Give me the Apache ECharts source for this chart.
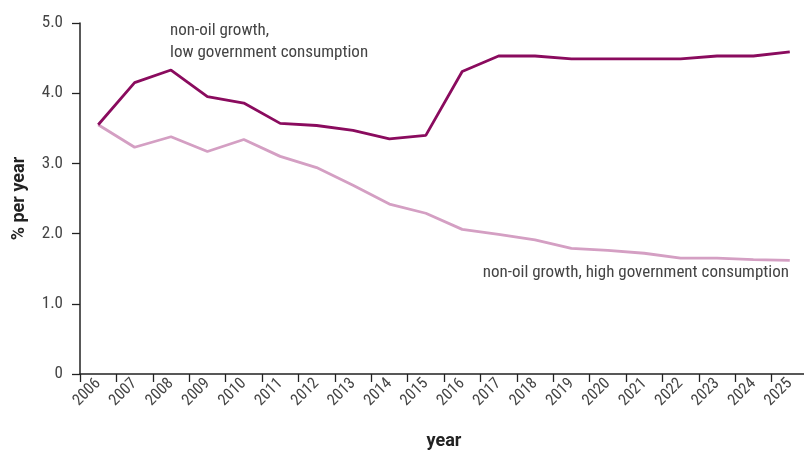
<!DOCTYPE html>
<html lang="en">
<head>
    <meta charset="UTF-8">
    <title>non-oil growth</title>
    <style type="text/css">
        *{
            margin: 0;
            padding: 0;
        }
        #main{
            width: 804px;
            height: 450px;
            background: #ffffff;
        }
    </style>
</head>
<body>
    <div id="main"></div>
    <script src="https://cdn.jsdelivr.net/npm/echarts@6/dist/echarts.min.js"></script>
    <script type="text/javascript">
        var years = ['2006','2007','2008','2009','2010','2011','2012','2013','2014','2015',
                     '2016','2017','2018','2019','2020','2021','2022','2023','2024','2025'];
        // non-oil growth, low government consumption
        var lowGov = [3.55, 4.15, 4.33, 3.95, 3.86, 3.57, 3.54, 3.47, 3.35, 3.40,
                      4.31, 4.53, 4.53, 4.49, 4.49, 4.49, 4.49, 4.53, 4.53, 4.59];
        // non-oil growth, high government consumption
        var highGov = [3.55, 3.23, 3.38, 3.17, 3.34, 3.10, 2.94, 2.69, 2.42, 2.29,
                       2.06, 1.99, 1.91, 1.79, 1.76, 1.72, 1.65, 1.65, 1.63, 1.62];
        var yTicks = ['0', '1.0', '2.0', '3.0', '4.0', '5.0'];

        var font = '"Roboto Condensed", "Liberation Sans Narrow", "DejaVu Sans Condensed", Roboto, sans-serif';
        var boldFont = 'Roboto, "Liberation Sans", sans-serif';
        var textGray = '#444444';

        var myChart = echarts.init(document.getElementById('main'));

        var option = {
            animation: false,
            grid: {
                left: 80,
                top: 23,
                width: 728,
                height: 351,
                containLabel: false,
                outerBoundsMode: 'none'
            },
            xAxis: {
                type: 'category',
                data: years,
                boundaryGap: true,
                name: 'year',
                nameLocation: 'middle',
                nameGap: 58,
                nameTextStyle: {
                    fontFamily: boldFont,
                    fontWeight: 'bold',
                    fontSize: 18,
                    color: '#222222'
                },
                axisLine: { lineStyle: { color: '#222222', width: 1.5 } },
                axisTick: { show: true, length: 8, lineStyle: { color: '#222222', width: 1.3 } },
                axisLabel: {
                    rotate: 45,
                    interval: 0,
                    fontFamily: font,
                    fontSize: 16,
                    color: textGray,
                    margin: 7
                },
                splitLine: { show: false }
            },
            yAxis: {
                type: 'value',
                min: 0,
                max: 5,
                interval: 1,
                name: '% per year',
                nameLocation: 'middle',
                nameRotate: 90,
                nameGap: 52,
                nameTextStyle: {
                    fontFamily: boldFont,
                    fontWeight: 'bold',
                    fontSize: 18,
                    color: '#222222'
                },
                axisLine: { show: true, lineStyle: { color: '#222222', width: 1.5 } },
                axisTick: { show: true, length: 8, lineStyle: { color: '#222222', width: 1.3 } },
                axisLabel: {
                    fontFamily: font,
                    fontSize: 17,
                    color: textGray,
                    margin: 17,
                    formatter: function (v) {
                        return yTicks[Math.round(v)];
                    }
                },
                splitLine: { show: false }
            },
            series: [
                {
                    name: 'non-oil growth, low government consumption',
                    type: 'line',
                    data: lowGov,
                    symbol: 'none',
                    lineStyle: { color: '#8A0B5E', width: 2.8 },
                    z: 3
                },
                {
                    name: 'non-oil growth, high government consumption',
                    type: 'line',
                    data: highGov,
                    symbol: 'none',
                    lineStyle: { color: '#D49FC3', width: 2.8 },
                    z: 2
                }
            ],
            graphic: [
                {
                    type: 'text',
                    left: 170,
                    top: 20,
                    style: {
                        text: 'non-oil growth,\nlow government consumption',
                        font: '17px ' + font,
                        fill: textGray,
                        lineHeight: 22
                    }
                },
                {
                    type: 'text',
                    right: 15,
                    top: 264,
                    style: {
                        text: 'non-oil growth, high government consumption',
                        font: '17px ' + font,
                        fill: textGray,
                        align: 'right'
                    }
                }
            ]
        };

        myChart.setOption(option);
    </script>
</body>
</html>
